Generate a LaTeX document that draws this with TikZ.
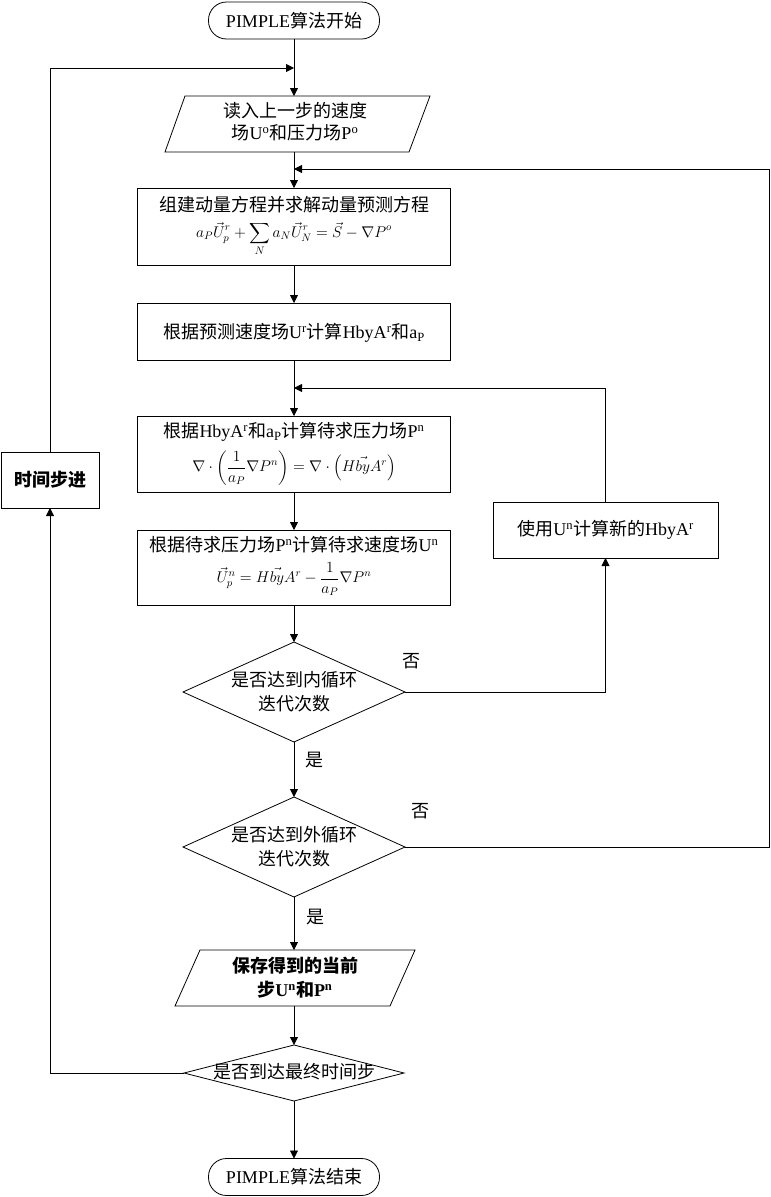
\RequirePackage{fix-cm}
\documentclass[tikz,border=0pt]{standalone}
\usepackage{amsmath}
\usepackage{fontspec}
\setmainfont{Liberation Serif}
\newfontfamily\cjk{Noto Sans CJK SC}
\usetikzlibrary{arrows.meta,shapes.geometric}
\newcommand{\zh}[1]{{\cjk #1}}
\newcommand{\sups}[1]{\textsuperscript{#1}}
\newcommand{\subs}[1]{\textsubscript{#1}}
\begin{document}
\begin{tikzpicture}[x=1pt,y=-1pt,
  every node/.style={inner sep=0pt, outer sep=0pt, font=\fontsize{18}{22}\selectfont},
  line/.style={draw=black, line width=0.8pt},
  arr/.style={line, -{Triangle[length=8pt,width=8pt]}},
  box/.style={draw, line width=0.8pt, rectangle},
  term/.style={draw, line width=0.8pt, rectangle, rounded corners=18pt, minimum width=171pt, minimum height=37pt},
  dia/.style={draw, line width=0.8pt, diamond},
  mth/.style={font=\fontsize{15.5}{18}\selectfont},
  lbl/.style={font=\fontsize{18}{22}\selectfont\cjk}]
\useasboundingbox (0,0) rectangle (771,1197);

% start
\node[term] (start) at (294,20.5) {PIMPLE\zh{算法开始}};

% parallelogram 1
\node[minimum width=245pt, minimum height=56pt] (p1) at (294,124) {};
\draw[line] (165,152) -- (185,96) -- (430,96) -- (409,152) -- cycle;
\node (p1a) at (295,111) {\zh{读入上一步的速度}};
\node (p1b) at (295,133) {\zh{场}U\sups{o}\zh{和压力场}P\sups{o}};

% box 1
\node[box, minimum width=313pt, minimum height=77pt] (b1) at (294,226.5) {};
\node (b1a) at (294,205) {\zh{组建动量方程并求解动量预测方程}};
\node[mth] (b1m) at (294,239) {$\displaystyle a_P\vec{U}^r_p+\sum_N a_N\vec{U}^r_N=\vec{S}-\nabla P^o$};

% box 2
\node[box, minimum width=313pt, minimum height=57pt] (b2) at (294,331.5) {};
\node (b2a) at (294,333) {\zh{根据预测速度场}U\sups{r}\zh{计算}HbyA\sups{r}\zh{和}a\subs{P}};

% box 3
\node[box, minimum width=313pt, minimum height=76pt] (b3) at (294,454) {};
\node (b3a) at (294,432) {\zh{根据}HbyA\sups{r}\zh{和}a\subs{P}\zh{计算待求压力场}P\sups{n}};
\node[mth] (b3m) at (294,468) {$\displaystyle \nabla\cdot\left(\frac{1}{a_P}\nabla P^n\right)=\nabla\cdot\left(H\vec{by}A^r\right)$};

% box 4
\node[box, minimum width=313pt, minimum height=75pt] (b4) at (294,567.5) {};
\node (b4a) at (294,545) {\zh{根据待求压力场}P\sups{n}\zh{计算待求速度场}U\sups{n}};
\node[mth] (b4m) at (294,579) {$\displaystyle \vec{U}^n_p=H\vec{by}A^r-\frac{1}{a_P}\nabla P^n$};

% right box
\node[box, minimum width=225pt, minimum height=56pt] (rb) at (605.5,530) {\zh{使用}U\sups{n}\zh{计算新的}HbyA\sups{r}};

% time step box
\node[box, minimum width=98pt, minimum height=56pt] (tb) at (50,480) {\bfseries\zh{时间步进}};

% diamonds
\node[dia, minimum width=222pt, minimum height=100pt] (d1) at (294,692) {};
\node (d1a) at (294,680) {\zh{是否达到内循环}};
\node (d1b) at (294,704) {\zh{迭代次数}};
\node[dia, minimum width=222pt, minimum height=100pt] (d2) at (294,847) {};
\node (d2a) at (294,835) {\zh{是否达到外循环}};
\node (d2b) at (294,859) {\zh{迭代次数}};

% parallelogram 2
\node[minimum width=215pt, minimum height=56pt] (p2) at (294,978) {};
\draw[line] (175,1006) -- (200,950) -- (415,950) -- (390,1006) -- cycle;
\node (p2a) at (295,966) {\bfseries\zh{保存得到的当前}};
\node (p2b) at (295,990) {\bfseries\zh{步}U\sups{n}\zh{和}P\sups{n}};

% diamond 3
\node[dia, minimum width=220pt, minimum height=56pt] (d3) at (294,1073) {};
\node (d3a) at (294,1072) {\zh{是否到达最终时间步}};

% end
\node[term] (end) at (294,1177) {PIMPLE\zh{算法结束}};

% junction coordinates
\coordinate (j1) at (294,68);
\coordinate (j2) at (294,169);
\coordinate (j3) at (294,388);
\coordinate (c2) at (769,847);

% connectors
\draw[arr] (start.south) -- (p1.north);
\draw[arr] (p1.south) -- (b1.north);
\draw[arr] (b1.south) -- (b2.north);
\draw[arr] (b2.south) -- (b3.north);
\draw[arr] (b3.south) -- (b4.north);
\draw[arr] (b4.south) -- (d1.north);
\draw[arr] (d1.south) -- (d2.north);
\draw[arr] (d2.south) -- (p2.north);
\draw[arr] (p2.south) -- (d3.north);
\draw[arr] (d3.south) -- (end.north);
\draw[arr] (d1.east) -| (rb.south);
\draw[arr] (rb.north) |- (j3);
\draw[arr] (d2.east) -- (c2) |- (j2);
\draw[arr] (d3.west) -| (tb.south);
\draw[arr] (tb.north) |- (j1);

% labels
\node[lbl] (n1) at (411,661) {否};
\node[lbl] (n2) at (420,811) {否};
\node[lbl] (y1) at (314,760) {是};
\node[lbl] (y2) at (315,917) {是};
\end{tikzpicture}
\end{document}
